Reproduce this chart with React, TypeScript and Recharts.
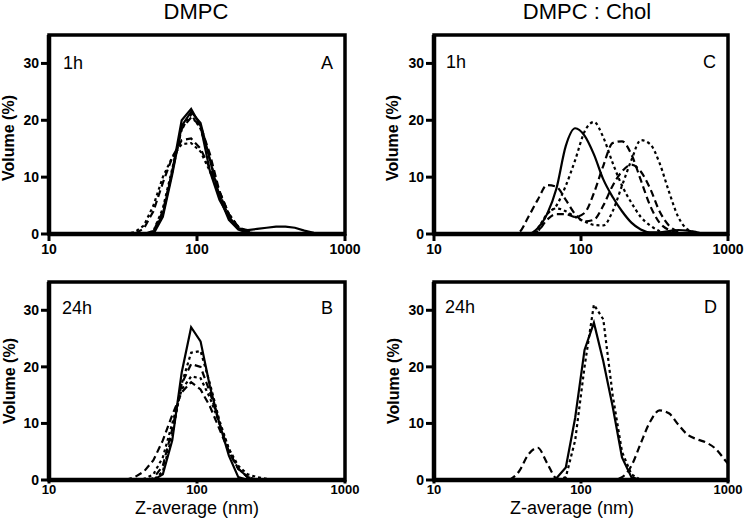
import { LineChart, Line, XAxis, YAxis, ReferenceArea } from "recharts";

// DLS size bins (nm), shared by every curve
const bins = [
  32.67, 37.84, 43.82, 50.75, 58.77, 68.06, 78.82, 91.28, 105.7, 122.4, 141.8,
  164.2, 190.1, 220.2, 255.0, 295.3, 342.0, 396.1, 458.7, 531.2, 615.1, 712.4,
  825.0, 955.4, 1106,
];

const xTicks = [10, 100, 1000];
const yTicks = [0, 10, 20, 30];

// A: DMPC 1h
const a1 = [0, 0, 0, 0.3, 3.5, 11, 20, 22, 19, 11, 6, 3, 1, 0.7, 0.9, 1.1, 1.3, 1.3, 1.1, 0.6, 0.2, 0, 0, 0, 0];
const a2 = [0, 0, 0, 0, 3, 10.5, 19, 21.5, 19.5, 13, 6.5, 2.5, 0.8, 0.2, 0, 0, 0, 0, 0, 0, 0, 0, 0, 0, 0];
const a3 = [0, 0, 0, 0.5, 4, 11, 18.5, 20.5, 19, 14, 7.5, 3.5, 1.2, 0.3, 0, 0, 0, 0, 0, 0, 0, 0, 0, 0, 0];
const a4 = [0, 0, 1, 4, 9, 13.5, 16.5, 16.8, 15, 11.5, 7.5, 3.5, 1.2, 0.3, 0, 0, 0, 0, 0, 0, 0, 0, 0, 0, 0];
const a5 = [0, 0.3, 1.5, 5, 10, 13.5, 15.8, 16, 14.5, 11, 7, 3.5, 1.3, 0.4, 0, 0, 0, 0, 0, 0, 0, 0, 0, 0, 0];
const a6 = [0, 0, 0, 0.5, 4.5, 11.5, 18.5, 21, 18.5, 13, 7, 3, 1, 0.3, 0, 0, 0, 0, 0, 0, 0, 0, 0, 0, 0];

// B: DMPC 24h
const b1 = [0, 0, 0, 0, 1, 7, 19, 27, 24.5, 16.5, 10, 4.3, 0.5, 0, 0, 0, 0, 0, 0, 0, 0, 0, 0, 0, 0];
const b2 = [0, 0, 0, 0, 1.5, 8, 17, 22.5, 22.8, 17, 10.5, 5.5, 2, 0.5, 0, 0, 0, 0, 0, 0, 0, 0, 0, 0, 0];
const b3 = [0, 0, 0, 0.3, 2.5, 9, 17, 20.5, 20, 15.5, 10, 5, 2, 0.5, 0, 0, 0, 0, 0, 0, 0, 0, 0, 0, 0];
const b4 = [0, 0, 0.2, 1, 4, 10, 16, 18.3, 18, 14.5, 10, 5.5, 2.5, 1, 0.5, 0.2, 0, 0, 0, 0, 0, 0, 0, 0, 0];
const b5 = [0, 0.5, 1.5, 3.5, 7, 11.5, 15.5, 17.3, 16, 13, 9, 5, 2, 0.5, 0, 0, 0, 0, 0, 0, 0, 0, 0, 0, 0];

// C: DMPC:Chol 1h
const c1 = [0, 0, 0, 1, 3.5, 8, 15.5, 18.6, 17.3, 14, 9.6, 6.5, 4, 2, 0.8, 0.3, 0.3, 0.5, 0.7, 0.6, 0.3, 0, 0, 0, 0];
const c2 = [0, 0, 0, 0.5, 3.5, 5, 8.5, 13, 18, 19.7, 17, 12.5, 8.5, 5.5, 3, 1.5, 0.5, 0, 0, 0, 0, 0, 0, 0, 0];
const c3 = [0, 0.3, 3, 6, 8.6, 8.3, 6, 3.5, 2.2, 2.5, 5, 8.5, 11, 12.2, 11, 8, 4, 1.5, 0.4, 0, 0, 0, 0, 0, 0];
const c4 = [0, 0, 0, 0.5, 2.5, 3.5, 3.5, 3, 3.7, 7.2, 12, 16, 16.3, 14, 9.5, 5, 2, 0.7, 0.2, 0, 0, 0, 0, 0, 0];
const c5 = [0, 0, 0, 1, 3.5, 4.5, 4, 3, 2.2, 1.6, 1.5, 4, 8.5, 13, 16.5, 15.8, 12.5, 7.5, 3, 0.8, 0.2, 0, 0, 0, 0];

// D: DMPC:Chol 24h
const d1 = [0, 0, 0, 0, 0, 0.3, 2.2, 11, 23, 27.8, 21, 13, 4, 0.5, 0, 0, 0, 0, 0, 0, 0, 0, 0, 0, 0];
const d2 = [0, 0, 0, 0, 0, 0, 0.5, 7, 20, 31, 28.4, 15, 5, 1, 0, 0, 0, 0, 0, 0, 0, 0, 0, 0, 0];
const d3 = [0, 1.5, 4.5, 5.7, 3, 0.3, 0, 0, 0, 0, 0, 0, 0.5, 2.5, 6.5, 10.3, 12.3, 11.8, 9.8, 8, 7.2, 6.6, 5.5, 3.5, 1.5];

const FONT = "'Liberation Sans', Arial, Helvetica, sans-serif";
const SOLID = undefined;
const DASH = "7 4";
const DOT = "3 3";

// heavy GraphPad-style frame
const css = `
.recharts-cartesian-axis-line { stroke: #000 !important; stroke-width: 4.5px !important; }
.recharts-cartesian-axis-tick-line { stroke: #000 !important; stroke-width: 3px !important; }
.recharts-reference-area-rect { stroke: #000 !important; stroke-width: 3.5px !important; fill: none !important; }
`;

type Series = { values: number[]; dash?: string; smooth?: boolean };

const toPoints = (ys: number[]) => bins.map((x, i) => ({ x, y: ys[i] }));

const XTick = (props: any) => {
  const { x, y, payload, size } = props;
  return (
    <text
      x={x}
      y={y}
      dy="0.71em"
      textAnchor="middle"
      fontSize={size}
      fontWeight="bold"
      fontFamily={FONT}
      fill="#000"
    >
      {payload.value}
    </text>
  );
};

const YTick = (props: any) => {
  const { x, y, payload } = props;
  return (
    <text
      x={x}
      y={y}
      dy="0.36em"
      textAnchor="end"
      fontSize={14}
      fontWeight="bold"
      fontFamily={FONT}
      fill="#000"
    >
      {payload.value}
    </text>
  );
};

interface PanelProps {
  left: number;
  top: number;
  width: number;
  height: number;
  margin: { top: number; right: number; bottom: number; left: number };
  series: Series[];
  lower?: boolean;
}

const Panel = ({ left, top, width, height, margin, series, lower }: PanelProps) => {
  const axisLine = { stroke: "#000", strokeWidth: 4.5 };
  const tickLine = { stroke: "#000", strokeWidth: 3 };
  return (
    <div style={{ position: "absolute", left, top }}>
      <LineChart width={width} height={height} margin={margin}>
        <XAxis
          dataKey="x"
          type="number"
          scale="log"
          domain={[10, 1000]}
          ticks={xTicks}
          allowDataOverflow
          height={25}
          tickSize={lower ? 3.5 : 7}
          tickMargin={lower ? 1 : 3}
          axisLine={axisLine}
          tickLine={tickLine}
          tick={<XTick size={lower ? 13 : 14} />}
        />
        <YAxis
          dataKey="y"
          type="number"
          domain={[0, 35]}
          ticks={yTicks}
          allowDataOverflow
          width={40}
          tickSize={8}
          tickMargin={2}
          axisLine={axisLine}
          tickLine={tickLine}
          tick={<YTick />}
        />
        <ReferenceArea
          x1={10}
          x2={1000}
          y1={0}
          y2={35}
          fill="none"
          fillOpacity={0}
          stroke="#000"
          strokeWidth={3.5}
          strokeOpacity={1}
        />
        {series.map((s, i) => (
          <Line
            key={i}
            data={toPoints(s.values)}
            dataKey="y"
            type={s.smooth ? "monotone" : "linear"}
            stroke="#000"
            strokeWidth={2.2}
            strokeDasharray={s.dash}
            dot={false}
            isAnimationActive={false}
          />
        ))}
      </LineChart>
    </div>
  );
};

const topMargin = { top: 35, right: 27, bottom: 6, left: 9 };
const bottomMargin = { top: 17, right: 27, bottom: 24, left: 9 };
const topMarginR = { top: 35, right: 17, bottom: 6, left: 22 };
const bottomMarginR = { top: 17, right: 17, bottom: 24, left: 22 };

const App = () => {
  const label = { fontFamily: FONT, fill: "#000" };
  return (
    <div
      style={{
        position: "absolute",
        left: 0,
        top: 0,
        width: 745,
        height: 529,
        background: "#fff",
        overflow: "hidden",
      }}
    >
      <style>{css}</style>
      <Panel
        left={0}
        top={0}
        width={372}
        height={265}
        margin={topMargin}
        series={[
          { values: a4, dash: DASH },
          { values: a5, dash: DOT },
          { values: a3, dash: DASH },
          { values: a6, dash: DOT },
          { values: a2, dash: SOLID },
          { values: a1, dash: SOLID },
        ]}
      />
      <Panel
        left={0}
        top={265}
        width={372}
        height={264}
        margin={bottomMargin}
        lower
        series={[
          { values: b5, dash: DASH },
          { values: b4, dash: DOT },
          { values: b3, dash: DASH },
          { values: b2, dash: DOT },
          { values: b1, dash: SOLID },
        ]}
      />
      <Panel
        left={372}
        top={0}
        width={373}
        height={265}
        margin={topMarginR}
        series={[
          { values: c3, dash: DASH, smooth: true },
          { values: c4, dash: DASH, smooth: true },
          { values: c5, dash: DOT, smooth: true },
          { values: c2, dash: DOT, smooth: true },
          { values: c1, dash: SOLID, smooth: true },
        ]}
      />
      <Panel
        left={372}
        top={265}
        width={373}
        height={264}
        margin={bottomMarginR}
        lower
        series={[
          { values: d3, dash: DASH, smooth: true },
          { values: d2, dash: DOT },
          { values: d1, dash: SOLID },
        ]}
      />
      <svg
        width={745}
        height={529}
        style={{ position: "absolute", left: 0, top: 0, pointerEvents: "none" }}
      >
        <text x={196} y={18.5} textAnchor="middle" fontSize={22} {...label}>
          DMPC
        </text>
        <text x={587} y={18.5} textAnchor="middle" fontSize={22} {...label}>
          DMPC : Chol
        </text>

        <text x={63} y={69} fontSize={18} {...label}>1h</text>
        <text x={333} y={69} textAnchor="end" fontSize={18} {...label}>A</text>
        <text x={62} y={314} fontSize={18} {...label}>24h</text>
        <text x={333} y={314} textAnchor="end" fontSize={18} {...label}>B</text>
        <text x={446} y={68} fontSize={18} {...label}>1h</text>
        <text x={716} y={68} textAnchor="end" fontSize={18} {...label}>C</text>
        <text x={445} y={313} fontSize={18} {...label}>24h</text>
        <text x={717} y={313} textAnchor="end" fontSize={18} {...label}>D</text>

        <text transform="translate(14,138) rotate(-90)" textAnchor="middle" fontSize={16} fontWeight="bold" {...label}>
          Volume (%)
        </text>
        <text transform="translate(15,381) rotate(-90)" textAnchor="middle" fontSize={16} fontWeight="bold" {...label}>
          Volume (%)
        </text>
        <text transform="translate(398,138) rotate(-90)" textAnchor="middle" fontSize={16} fontWeight="bold" {...label}>
          Volume (%)
        </text>
        <text transform="translate(399,381) rotate(-90)" textAnchor="middle" fontSize={16} fontWeight="bold" {...label}>
          Volume (%)
        </text>

        <text x={197} y={514} textAnchor="middle" fontSize={18} {...label}>
          Z-average (nm)
        </text>
        <text x={572} y={514} textAnchor="middle" fontSize={18} {...label}>
          Z-average (nm)
        </text>
      </svg>
    </div>
  );
};

export default App;
